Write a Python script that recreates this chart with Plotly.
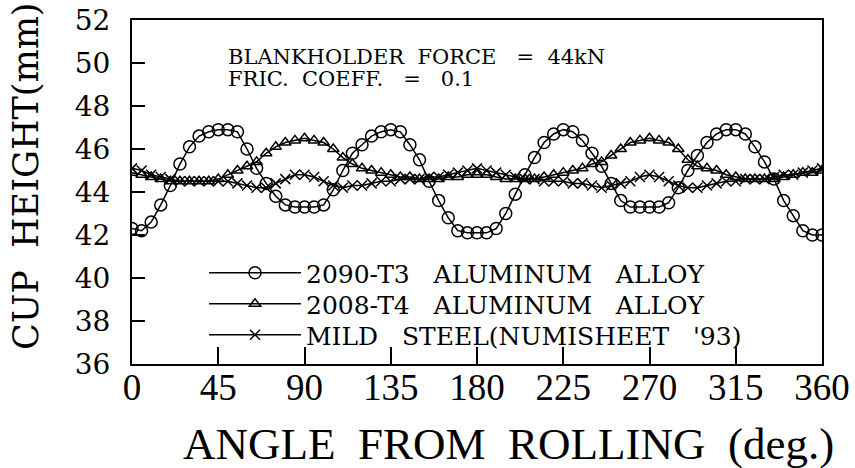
import plotly.graph_objects as go

angle = list(range(0, 361, 5))

al2090 = [42.3, 42.2, 42.6, 43.4, 44.3, 45.3, 46.1, 46.6, 46.8, 46.9,
          46.9, 46.8, 46.0, 45.1, 44.4, 43.8, 43.4, 43.3, 43.3, 43.3,
          43.4, 44.1, 45.0, 45.8, 46.2, 46.6, 46.8, 46.9, 46.8, 46.2,
          45.5, 44.5, 43.6, 42.8, 42.2, 42.1, 42.1, 42.1, 42.3, 43.0,
          43.9, 44.8, 45.6, 46.3, 46.7, 46.9, 46.8, 46.4, 45.8, 45.2,
          44.4, 43.6, 43.3, 43.3, 43.3, 43.3, 43.5, 44.2, 45.0, 45.7,
          46.3, 46.7, 46.9, 46.9, 46.7, 46.1, 45.4, 44.6, 43.6, 42.9,
          42.2, 42.0, 42.0]

al2008 = [44.9, 44.8, 44.7, 44.6, 44.5, 44.5, 44.5, 44.5, 44.5, 44.6,
          44.8, 45.0, 45.2, 45.4, 45.8, 46.1, 46.3, 46.4, 46.5, 46.4,
          46.3, 46.0, 45.6, 45.3, 45.1, 45.0, 44.9, 44.8, 44.7, 44.7,
          44.6, 44.6, 44.6, 44.7, 44.7, 44.8, 44.8, 44.8, 44.7, 44.6,
          44.6, 44.6, 44.6, 44.7, 44.8, 44.9, 45.0, 45.1, 45.3, 45.4,
          45.7, 46.0, 46.3, 46.4, 46.5, 46.4, 46.3, 46.0, 45.5, 45.2,
          45.1, 45.0, 44.8, 44.7, 44.6, 44.6, 44.6, 44.6, 44.7, 44.8,
          44.9, 44.9, 45.0]

steel = [45.1, 45.0, 44.8, 44.7, 44.6, 44.5, 44.5, 44.5, 44.5, 44.5,
         44.5, 44.4, 44.3, 44.2, 44.2, 44.4, 44.6, 44.8, 44.8, 44.7,
         44.5, 44.3, 44.2, 44.3, 44.3, 44.4, 44.5, 44.5, 44.6, 44.6,
         44.6, 44.7, 44.7, 44.8, 44.9, 45.0, 45.1, 45.0, 44.9, 44.8,
         44.7, 44.6, 44.6, 44.5, 44.5, 44.5, 44.4, 44.4, 44.3, 44.2,
         44.3, 44.4, 44.5, 44.7, 44.8, 44.7, 44.5, 44.3, 44.2, 44.2,
         44.3, 44.4, 44.5, 44.5, 44.6, 44.6, 44.6, 44.7, 44.8, 44.8,
         44.9, 45.0, 45.1]

names = ["2090-T3   ALUMINUM   ALLOY", "2008-T4   ALUMINUM   ALLOY", "MILD   STEEL(NUMISHEET   '93)"]
x_ticks = [0, 45, 90, 135, 180, 225, 270, 315, 360]
y_ticks = [36, 38, 40, 42, 44, 46, 48, 50, 52]

L, R, T, B = 132, 33, 20, 104
W, H = 855, 468
pw = W - L - R
ph = H - T - B

def px(x):
    return (x - L) / pw

def py(y):
    return (H - B - y) / ph

fig = go.Figure()
series = [
    (al2090, names[0], "circle-open", 12, "legend", 273),
    (al2008, names[1], "triangle-up-open", 10, "legend2", 304),
    (steel, names[2], "x-thin-open", 10, "legend3", 335),
]
legend_cfg = {}
for ys, nm, sym, sz, lg, ly in series:
    fig.add_trace(go.Scatter(
        x=angle, y=ys, name=nm, mode="lines+markers", legend=lg,
        line=dict(color="black", width=1.5),
        marker=dict(symbol=sym, size=sz, color="black", line=dict(color="black", width=1.5)),
    ))
    legend_cfg[lg] = dict(x=px(204), y=py(ly), xanchor="left", yanchor="middle",
                          bgcolor="rgba(0,0,0,0)", borderwidth=0,
                          font=dict(family="DejaVu Serif", size=25, color="black"),
                          itemwidth=92)

fig.update_layout(
    width=W, height=H,
    margin=dict(l=L, r=R, t=T, b=B, autoexpand=False),
    plot_bgcolor="white", paper_bgcolor="white",
    showlegend=True,
    **legend_cfg,
    xaxis=dict(range=[0, 360], tickvals=x_ticks, ticktext=[str(v) for v in x_ticks],
               ticks="inside", ticklen=17, tickwidth=1.5, tickcolor="black",
               showline=True, linecolor="black", linewidth=2, mirror=True,
               showgrid=False, zeroline=False, automargin=False, ticklabelstandoff=-10,
               tickfont=dict(family="Liberation Serif", size=37, color="black")),
    yaxis=dict(range=[36, 52], tickvals=y_ticks, ticktext=[str(v) for v in y_ticks],
               ticks="inside", ticklen=13, tickwidth=1.5, tickcolor="black",
               showline=True, linecolor="black", linewidth=2, mirror=True,
               showgrid=False, zeroline=False, ticklabelstandoff=14, automargin=False,
               tickfont=dict(family="DejaVu Serif", size=28, color="black")),
    annotations=[
        dict(text="BLANKHOLDER  FORCE   =  44kN",
             xref="paper", yref="paper", x=px(226), y=py(57),
             xanchor="left", yanchor="middle", showarrow=False, align="left",
             font=dict(family="DejaVu Serif", size=21, color="black")),
        dict(text="FRIC.  COEFF.   =   0.1",
             xref="paper", yref="paper", x=px(226), y=py(79),
             xanchor="left", yanchor="middle", showarrow=False, align="left",
             font=dict(family="DejaVu Serif", size=21, color="black")),
        dict(text="ANGLE  FROM  ROLLING  (deg.)",
             xref="paper", yref="paper", x=px(508), y=py(444),
             xanchor="center", yanchor="middle", showarrow=False,
             font=dict(family="Liberation Serif", size=45, color="black")),
        dict(text="CUP  HEIGHT(mm)", textangle=-90,
             xref="paper", yref="paper", x=px(26), y=py(176),
             xanchor="center", yanchor="middle", showarrow=False,
             font=dict(family="DejaVu Serif", size=35, color="black")),
    ],
)

fig.write_html("out.html", config={"displayModeBar": False},
               post_script="document.body.style.margin='0';")
